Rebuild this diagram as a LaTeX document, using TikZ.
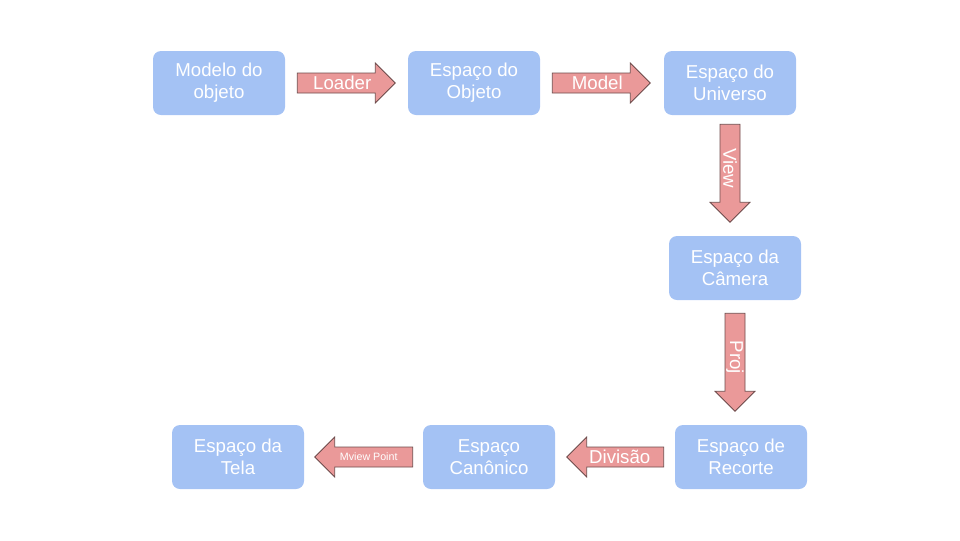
\documentclass[tikz,border=0pt]{standalone}
\usepackage{fontspec}
\setmainfont{Liberation Sans}
\usetikzlibrary{calc}
\definecolor{boxblue}{HTML}{A4C2F4}
\definecolor{arrowred}{HTML}{EA9999}
\definecolor{arrowline}{HTML}{6E4C4C}

\begin{document}
\begin{tikzpicture}[x=0.75pt, y=-0.75pt,
  space/.style={fill=boxblue, rounded corners=6pt, minimum width=99pt,
    minimum height=48pt, align=center, text=white, font=\fontsize{14pt}{16.5pt}\selectfont},
  blk/.style={fill=arrowred, draw=arrowline, line width=0.6pt},
  lbl/.style={text=white, inner sep=0pt, font=\fontsize{14pt}{16pt}\selectfont}]
\useasboundingbox (0,0) rectangle (960,540);
%spaces
\node[space] (modelo)   at (219,83)  {Modelo do\\objeto};
\node[space] (objeto)   at (474,83)  {Espaço do\\Objeto};
\node[space] (universo) at (730,83)  {Espaço do\\Universo};
\node[space] (camera)   at (735,268) {Espaço da\\Câmera};
\node[space] (recorte)  at (741,457) {Espaço de\\Recorte};
\node[space] (canonico) at (489,457) {Espaço\\Canônico};
\node[space] (tela)     at (238,457) {Espaço da\\Tela};
%right arrows
\foreach \a/\b/\t in {modelo/objeto/Loader, objeto/universo/Model}
{
  \draw[blk] ($(\a.east)+(12,0)$) coordinate (\a-tail)
    -- ++(0,-10) -- ++(78,0) -- ++(0,-10) -- ++(20,20)
    -- ++(-20,20) -- ++(0,-10) -- ++(-78,0) -- cycle;
  \node[lbl] (\a-lbl) at ($(\a-tail)+(45,0)$) {\t};
}
%down arrows
\foreach \a/\b/\g/\t in {universo/camera/9/View, camera/recorte/13/Proj}
{
  \draw[blk] ($(\a.south)+(0,\g)$) coordinate (\a-tail)
    -- ++(10,0) -- ++(0,78) -- ++(10,0) -- ++(-20,20)
    -- ++(-20,-20) -- ++(10,0) -- ++(0,-78) -- cycle;
  \node[lbl, rotate=-90] (\a-lbl) at ($(\a-tail)+(0,44)$) {\t};
}
%left arrows
\draw[blk] ($(recorte.west)+(-11,0)$) coordinate (recorte-tail)
  -- ++(0,-10) -- ++(-77,0) -- ++(0,-10) -- ++(-20,20)
  -- ++(20,20) -- ++(0,-10) -- ++(77,0) -- cycle;
\node[lbl] (recorte-lbl) at ($(recorte-tail)+(-44,0)$) {Divisão};
\draw[blk] ($(canonico.west)+(-10,0)$) coordinate (canonico-tail)
  -- ++(0,-10) -- ++(-78,0) -- ++(0,-10) -- ++(-20,20)
  -- ++(20,20) -- ++(0,-10) -- ++(78,0) -- cycle;
\node[lbl, font=\fontsize{8pt}{9pt}\selectfont] (canonico-lbl)
  at ($(canonico-tail)+(-44,0)$) {Mview Point};
\end{tikzpicture}
\end{document}
